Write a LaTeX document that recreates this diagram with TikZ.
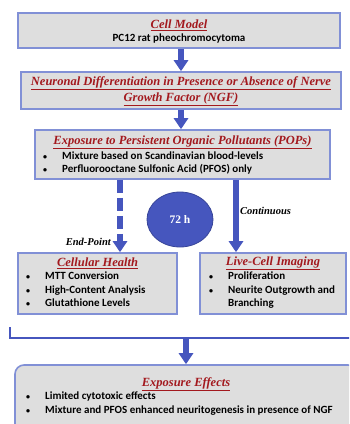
\documentclass[tikz,border=0pt]{standalone}
\usepackage{fontspec}
\setmainfont{Liberation Serif}
\newfontfamily\bodyfont{Carlito}
\usetikzlibrary{arrows.meta,shapes.geometric}

\definecolor{boxfill}{HTML}{DEDEDE}
\definecolor{boxline}{HTML}{8190D6}
\definecolor{arrowblue}{HTML}{4656BE}
\definecolor{titlered}{HTML}{A3191E}

\newcommand{\bul}{\makebox[19pt][l]{\fontsize{8}{8}\selectfont\textbullet}}

\tikzset{
  box/.style={draw=boxline,fill=boxfill,line width=1.6pt,inner sep=0pt},
  ttl/.style={font=\fontsize{12.5}{15}\selectfont\bfseries\itshape,text=titlered,inner sep=0pt,align=center},
  txt/.style={font=\bodyfont\fontsize{11}{13.5}\selectfont\bfseries,inner sep=0pt,align=left},
  lbl/.style={font=\fontsize{10.5}{12}\selectfont\bfseries\itshape,inner sep=0pt},
  arr/.style={draw=arrowblue,line width=5.5pt,-{Triangle[width=14pt,length=11pt]}},
}

\begin{document}
\begin{tikzpicture}[x=1pt,y=-1pt]
    \useasboundingbox (0,0) rectangle (349,424);
    \clip (0,0) rectangle (349,424);

    % --------------------------------------------------------- %
    % ------------- Cell model
    % --------------------------------------------------------- %
    \node[box,minimum width=322pt,minimum height=35pt] (cell) at (179,30.5) {};
    \node[ttl] (celltitle) at (179,25) {\underline{Cell Model}};
    \node[txt] (celltext) at (179,39) {PC12 rat pheochromocytoma};

    % --------------------------------------------------------- %
    % ------------- Differentiation
    % --------------------------------------------------------- %
    \node[box,minimum width=320pt,minimum height=37pt] (ngf) at (181,90.5) {};
    \node[ttl] (ngftitle1) at (181,83) {\underline{Neuronal Differentiation in Presence or Absence of Nerve}};
    \node[ttl] (ngftitle2) at (181,99) {\underline{Growth Factor (NGF)}};
    \draw[arr] (ngf.north |- cell.south) -- (ngf.north);

    % --------------------------------------------------------- %
    % ------------- Exposure to POPs
    % --------------------------------------------------------- %
    \node[box,minimum width=295pt,minimum height=49pt] (pops) at (182.5,154.5) {};
    \node[ttl] (popstitle) at (182.5,142) {\underline{Exposure to Persistent Organic Pollutants (POPs)}};
    \node[txt,anchor=west] (popstext) at (43,163) {\bul Mixture based on Scandinavian blood-levels\\ \bul Perfluorooctane Sulfonic Acid (PFOS) only};
    \draw[arr] (ngf.south -| ngf.north) -- (ngf.south |- pops.north);

    % --------------------------------------------------------- %
    % ------------- Readouts
    % --------------------------------------------------------- %
    \node[box,minimum width=159pt,minimum height=61pt] (health) at (97.5,283.5) {};
    \node[ttl] (healthtitle) at (97.5,263) {\underline{Cellular Health}};
    \node[txt,anchor=north west] (healthtext) at (26,272) {\bul MTT Conversion\\ \bul High-Content Analysis\\ \bul Glutathione Levels};

    \node[box,minimum width=146pt,minimum height=61pt] (live) at (273,283.5) {};
    \node[ttl] (livetitle) at (273,263) {\underline{Live-Cell Imaging}};
    \node[txt,anchor=north west] (livetext) at (209,272) {\bul Proliferation\\ \bul Neurite Outgrowth and\\ \hspace{19pt}Branching};

    \coordinate (endpoint) at (120,0);
    \coordinate (continuous) at (236,0);
    \draw[arr,dash pattern=on 13pt off 5pt] (pops.south -| endpoint) -- (health.north -| endpoint);
    \draw[arr] (pops.south -| continuous) -- (live.north -| continuous);

    \node[lbl,anchor=east] (endlabel) at (111,242) {End-Point};
    \node[lbl,anchor=west] (contlabel) at (240,211) {Continuous};

    \node[ellipse,draw=arrowblue!80!black,fill=arrowblue,line width=0.8pt,minimum width=66pt,minimum height=55pt,
      text=white,font=\fontsize{11.5}{13}\selectfont\bfseries] (time) at (180,219.5) {72 h};

    % --------------------------------------------------------- %
    % ------------- Bracket and effects
    % --------------------------------------------------------- %
    \coordinate (bracketleft) at (10,327);
    \coordinate (bracketright) at (362,327);
    \coordinate (bracketmid) at (186,338);
    \draw[arrowblue,line width=2pt] (bracketleft) |- (bracketmid) -| (bracketright);

    \node[box,rounded corners=9pt,minimum width=342pt,minimum height=68pt] (effects) at (186,399) {};
    \node[ttl] (effectstitle) at (186,384) {\underline{Exposure Effects}};
    \node[txt,anchor=north west] (effectstext) at (26,392) {\bul Limited cytotoxic effects\\ \bul Mixture and PFOS enhanced neuritogenesis in presence of NGF};
    \draw[arr] (bracketmid) -- (effects.north -| bracketmid);

  \end{tikzpicture}
\end{document}
